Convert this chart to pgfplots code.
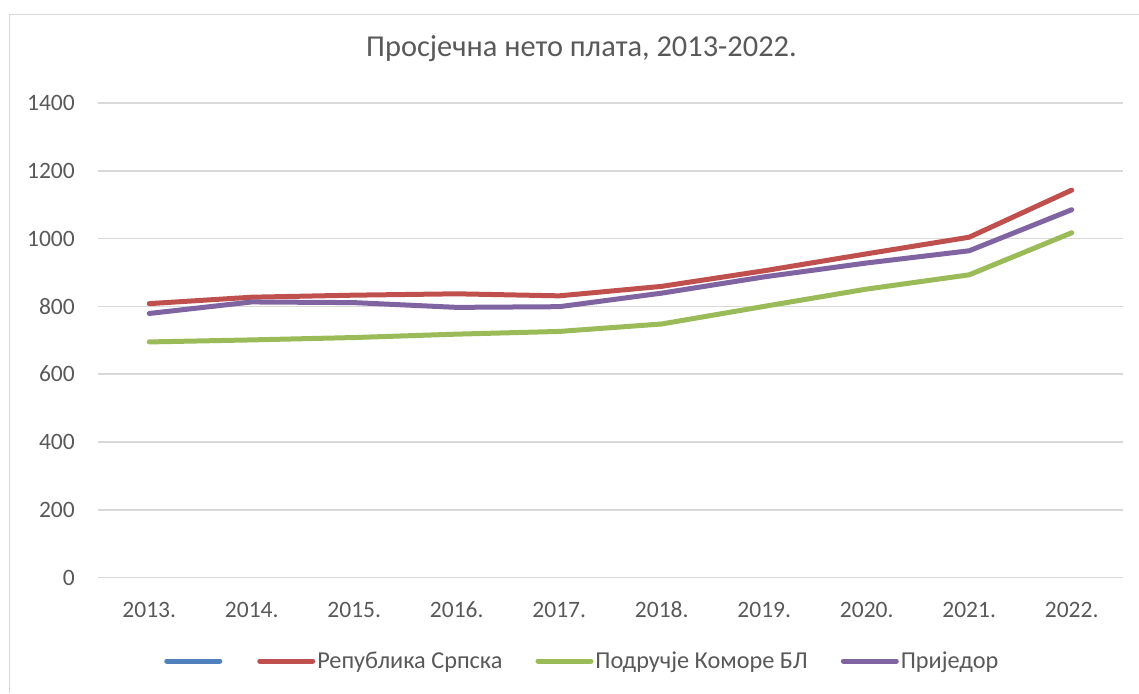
\documentclass[border=0pt]{standalone}
\usepackage{fontspec}
\setmainfont{Carlito}
\usepackage{pgfplots}
\pgfplotsset{compat=1.18}
\definecolor{cBlue}{HTML}{4F81BD}
\definecolor{cRed}{HTML}{C0504D}
\definecolor{cGreen}{HTML}{9BBB59}
\definecolor{cPurple}{HTML}{8064A2}
\definecolor{textc}{HTML}{595959}
\definecolor{gridc}{HTML}{D9D9D9}
\begin{document}
\begin{tikzpicture}[x=1pt,y=1pt]
\path[use as bounding box] (0,0) rectangle (1139,693);
\draw[gridc, line width=1.5pt] (9.5,0) -- (9.5,678.5) -- (1139,678.5);
\begin{axis}[
  at={(98pt,115.5pt)}, anchor=south west,
  scale only axis, width=1025pt, height=474.5pt,
  xmin=-0.5, xmax=9.5, ymin=0, ymax=1400,
  ytick={0,200,...,1400},
  xtick={0,...,9},
  xticklabels={2013.,2014.,2015.,2016.,2017.,2018.,2019.,2020.,2021.,2022.},
  ymajorgrids, grid style={gridc, line width=1.6pt},
  axis line style={draw=none},
  major tick length=0pt,
  /pgf/number format/assume math mode=true,
  /pgf/number format/1000 sep={},
  tick label style={font=\fontsize{23.5}{27}\selectfont, text=textc},
  yticklabel style={anchor=east, inner sep=0pt, xshift=-23pt},
  xticklabel style={anchor=base, inner sep=0pt, yshift=-39.5pt},
  title={Просјечна нето плата, 2013-2022.},
  title style={at={(axis description cs:0.4717,1.101)}, anchor=center, font=\fontsize{30.4}{34}\selectfont, text=textc},
  legend columns=4,
  legend style={at={(axis description cs:0.4725,-0.176)}, anchor=center, draw=none, fill=none,
    font=\fontsize{24.3}{28}\selectfont, text=textc,
    /tikz/every even column/.append style={column sep=31pt},
    nodes={inner sep=2pt}},
  legend image code/.code={\draw[#1, line width=5pt, line cap=round] (0pt,0pt) -- (53pt,0pt);},
  every axis plot/.append style={line width=5pt, line join=round, line cap=round, mark=none},
]
\addlegendimage{cBlue}
\addlegendentry{\mbox{}}
\addplot[cRed] coordinates {(0,808) (1,827) (2,833) (3,837) (4,831) (5,859) (6,905) (7,955) (8,1004) (9,1143)};
\addlegendentry{Република Српска}
\addplot[cGreen] coordinates {(0,695) (1,701) (2,708) (3,718) (4,726) (5,748) (6,800) (7,851) (8,893) (9,1017)};
\addlegendentry{Подручје Коморе БЛ}
\addplot[cPurple] coordinates {(0,779) (1,813) (2,811) (3,797) (4,799) (5,839) (6,887) (7,928) (8,964) (9,1085)};
\addlegendentry{Приједор}
\end{axis}
\end{tikzpicture}
\end{document}
